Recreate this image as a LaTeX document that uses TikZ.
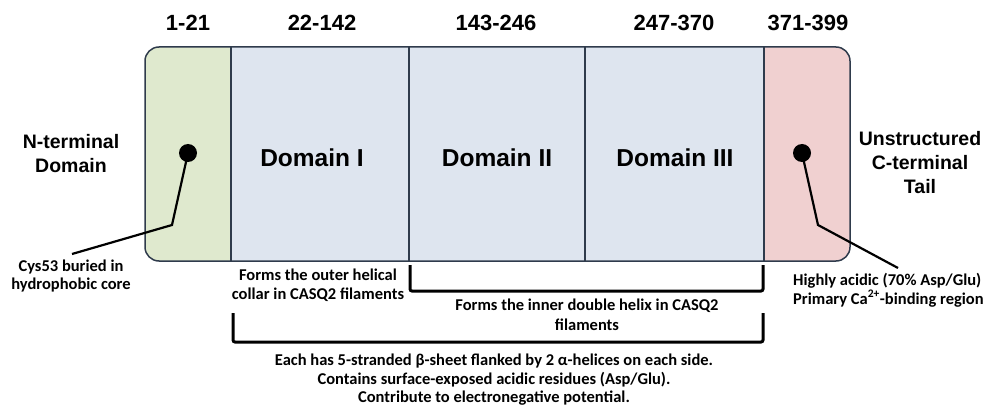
\documentclass[tikz,border=0pt]{standalone}
\usepackage{fontspec}
\setmainfont{Carlito}
\newfontfamily\bigf{Liberation Sans}
\definecolor{cgreen}{HTML}{DFE9CE}
\definecolor{cblue}{HTML}{DEE5EF}
\definecolor{cpink}{HTML}{F0D0D0}
\definecolor{cborder}{HTML}{2F3B4C}
\begin{document}
\begin{tikzpicture}[x=1pt,y=-1pt,
 rng/.style={font=\bigf\bfseries\fontsize{22}{26}\selectfont, inner sep=0},
 dom/.style={font=\bigf\bfseries\fontsize{24.5}{30}\selectfont, inner sep=0},
 side/.style={font=\bigf\bfseries\fontsize{19.5}{24}\selectfont, align=center, inner sep=0},
 note/.style={font=\bfseries\fontsize{16.5}{19.5}\selectfont, align=center, inner sep=0},
 dot/.style={circle, fill=black, minimum size=18pt, inner sep=0},
 lead/.style={line width=2.2pt},
 brk/.style={line width=3pt, rounded corners=2pt},
 divider/.style={line width=1.3pt, draw=cborder}]
\path[use as bounding box] (0,0) rectangle (985,406);
% segments
\begin{scope}
\clip[rounded corners=14pt] (145,47) rectangle (850,261);
\fill[cgreen] (145,47) rectangle (231,261);
\fill[cblue] (231,47) rectangle (764,261);
\fill[cpink] (764,47) rectangle (850,261);
\end{scope}
\draw[line width=1.5pt, draw=cborder, rounded corners=14pt] (145,47) rectangle (850,261);
\foreach \x in {231,409,585,764} \draw[divider] (\x,47) -- (\x,261);
% range labels
\node[rng] (r1) at (188,23) {1-21};
\node[rng] (r2) at (322,23) {22-142};
\node[rng] (r3) at (496,23) {143-246};
\node[rng] (r4) at (674,23) {247-370};
\node[rng] (r5) at (808,23) {371-399};
% domain labels
\node[dom] (d1) at (312,158) {Domain I};
\node[dom] (d2) at (497,158) {Domain II};
\node[dom] (d3) at (675,158) {Domain III};
% side labels
\node[side] (nterm) at (71,154) {N-terminal\\Domain};
\node[side] (cterm) at (920,163) {Unstructured\\C-terminal\\Tail};
% dots and leaders
\node[dot] (dotL) at (188,153) {};
\node[dot] (dotR) at (802,153) {};
\coordinate (bendL) at (172,225);
\coordinate (endL) at (72,254);
\coordinate (bendR) at (818,225);
\coordinate (endR) at (898,268);
\draw[lead] (dotL.center) -- (bendL) -- (endL);
\draw[lead] (dotR.center) -- (bendR) -- (endR);
% notes
\node[note, font=\bfseries\fontsize{16.5}{18}\selectfont] (cys) at (71,276) {Cys53 buried in\\hydrophobic core};
\node[note, align=left, anchor=west, font=\bfseries\fontsize{16.5}{19}\selectfont] (acid) at (793,290) {Highly acidic (70\% Asp/Glu)\\Primary Ca\textsuperscript{2+}-binding region};
\node[note] (outer) at (318,285) {Forms the outer helical\\collar in CASQ2 filaments};
\node[note] (inner) at (587,315) {Forms the inner double helix in CASQ2\\filaments};
\node[note, font=\bfseries\fontsize{16.5}{18.5}\selectfont] (common) at (494,380) {Each has 5-stranded β-sheet flanked by 2 α-helices on each side.\\Contains surface-exposed acidic residues (Asp/Glu).\\Contribute to electronegative potential.};
% brackets
\coordinate (ib1) at (410,265);
\coordinate (ib2) at (763,265);
\coordinate (ob1) at (233,313);
\coordinate (ob2) at (763,313);
\draw[brk] (ib1) -- ++(0,26) -| (ib2);
\draw[brk] (ob1) -- ++(0,29) -| (ob2);
\end{tikzpicture}
\end{document}
